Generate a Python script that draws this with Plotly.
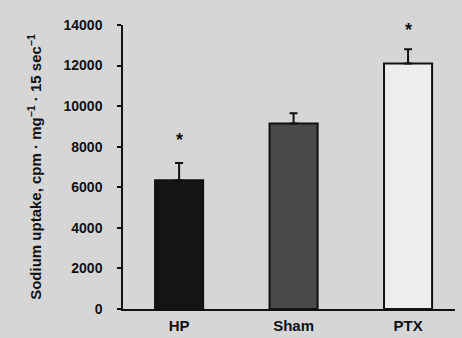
import plotly.graph_objects as go

categories = ["HP", "Sham", "PTX"]
means = [6350, 9150, 12100]
errors = [850, 500, 700]
significant = [True, False, True]
star_y = [8500, None, 13900]
y_ticks = [0, 2000, 4000, 6000, 8000, 10000, 12000, 14000]

bar_colors = ["#141414", "#4a4a4a", "#ededed"]
font_family = "Liberation Sans, Arial, sans-serif"

fig = go.Figure()
fig.add_trace(go.Bar(
    x=categories,
    y=means,
    marker=dict(color=bar_colors, line=dict(color="#111111", width=2)),
    error_y=dict(type="data", symmetric=False, array=errors,
                 arrayminus=[0] * len(errors), color="#111111",
                 thickness=2, width=4),
    width=0.42,
))

for cat, sig, sy in zip(categories, significant, star_y):
    if sig:
        fig.add_annotation(x=cat, y=sy, text="<b>*</b>", showarrow=False,
                           font=dict(family=font_family, size=18, color="#111111"),
                           yanchor="middle", yshift=-3)

fig.update_layout(
    width=462, height=338,
    margin=dict(l=123, r=7, t=25, b=29),
    paper_bgcolor="#d6d6d6",
    plot_bgcolor="#d6d6d6",
    showlegend=False,
    font=dict(family=font_family, color="#111111"),
)
fig.update_xaxes(
    range=[-0.49, 2.41],
    automargin=False,
    showline=True, linecolor="#111111", linewidth=1.5,
    ticks="", showgrid=False, zeroline=False,
    tickfont=dict(size=15, family=font_family, weight="bold"),
    ticklabelstandoff=2,
)
fig.update_yaxes(
    range=[0, 14000],
    automargin=False,
    tickvals=y_ticks,
    ticktext=[str(v) for v in y_ticks],
    showline=True, linecolor="#111111", linewidth=1.5,
    ticks="outside", ticklen=4, tickwidth=1.5, tickcolor="#111111",
    showgrid=False, zeroline=False,
    tickfont=dict(size=14, family=font_family, weight="bold"),
    ticklabelstandoff=12,
    title=dict(text="Sodium uptake, cpm · mg<sup>−1</sup> · 15 sec<sup>−1</sup>",
               font=dict(size=15, family=font_family, weight="bold"),
               standoff=18),
)

fig.write_html("out.html")
